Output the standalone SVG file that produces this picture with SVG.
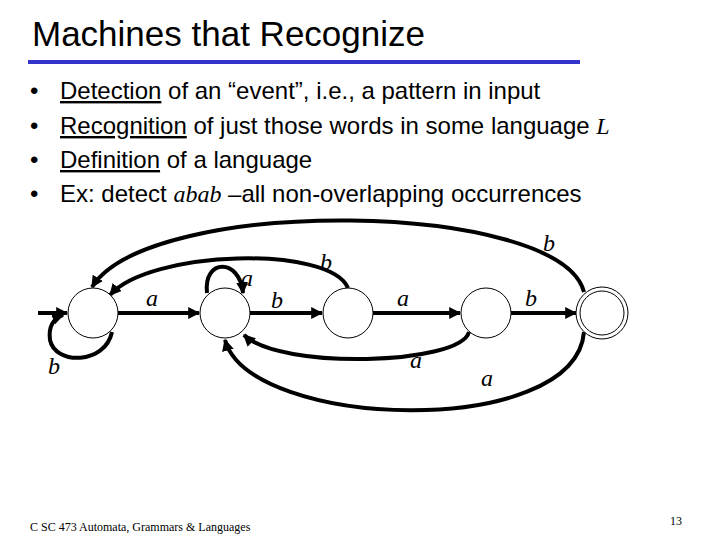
<svg xmlns="http://www.w3.org/2000/svg" width="720" height="540" viewBox="0 0 720 540">
<style>
.t{font-family:"Liberation Sans",Arial,sans-serif;font-size:24px;fill:#000}
.l{font-family:"Liberation Serif","Times New Roman",serif;font-style:italic;font-size:24px;fill:#000}
.s{fill:#fff;stroke:#000;stroke-width:1}
.e{fill:none;stroke:#000;stroke-width:4;marker-end:url(#ah)}
</style>
<defs><marker id="ah" viewBox="0 0 10 10" refX="9" refY="5" markerWidth="3" markerHeight="3" orient="auto" markerUnits="strokeWidth"><path d="M0,0L10,5L0,10z" fill="#000"/></marker></defs>
<rect width="720" height="540" fill="#fff"/>
<text x="32" y="46" font-family="Liberation Sans,Arial,sans-serif" font-size="35">Machines that Recognize</text>
<rect x="28" y="60" width="552" height="4" fill="#3333cc"/>
<g class="t" xml:space="preserve">
<text x="30" y="99">•</text><text x="60" y="99"><tspan text-decoration="underline">Detection</tspan> of an “event”, i.e., a pattern in input</text>
<text x="30" y="134">•</text><text x="60" y="134"><tspan text-decoration="underline">Recognition</tspan> of just those words in some language <tspan font-family="Liberation Serif,serif" font-style="italic">L</tspan></text>
<text x="30" y="168">•</text><text x="60" y="168"><tspan text-decoration="underline">Definition</tspan> of a language</text>
<text x="30" y="202">•</text><text x="60" y="202">Ex:  detect <tspan font-family="Liberation Serif,serif" font-style="italic">abab</tspan> –all non-overlapping occurrences</text>
</g>
<g id="connectors">
<path class="e" d="M38,313H67"/>
<path class="e" d="M118,313H199"/>
<path class="e" d="M250,313H322"/>
<path class="e" d="M373,313H460"/>
<path class="e" d="M511,313H576"/>
<path class="e" d="M207,293C203,258 240,258 243,293"/>
<path class="e" d="M112,332C105,365 55,365 50,340C48,325 55,318 63,315"/>
<path class="e" d="M348,288C330,245 150,250 110,295"/>
<path class="e" d="M584,292C560,200 150,195 92,287"/>
<path class="e" d="M469,332C460,365 280,370 244,335"/>
<path class="e" d="M584,332C575,440 250,430 225,340"/>
</g>
<g id="s1"><circle class="s" cx="93" cy="313" r="25"/></g>
<g id="s2"><circle class="s" cx="225" cy="313" r="25"/></g>
<g id="s3"><circle class="s" cx="348" cy="313" r="25"/></g>
<g id="s4"><circle class="s" cx="486" cy="313" r="25"/></g>
<g id="s5"><circle class="s" cx="602" cy="313" r="26"/><circle class="s" cx="602" cy="313" r="22"/></g>
<g class="l">
<text x="146" y="306">a</text><text x="241" y="286">a</text><text x="271" y="308">b</text>
<text x="320" y="270">b</text><text x="397" y="306">a</text><text x="525" y="306">b</text>
<text x="543" y="251">b</text><text x="48" y="374">b</text><text x="410" y="368">a</text><text x="481" y="386">a</text>
</g>
<text x="30" y="531" font-family="Liberation Serif,serif" font-size="12">C SC 473 Automata, Grammars &amp; Languages</text>
<text x="670" y="525" font-family="Liberation Serif,serif" font-size="12">13</text>
</svg>
